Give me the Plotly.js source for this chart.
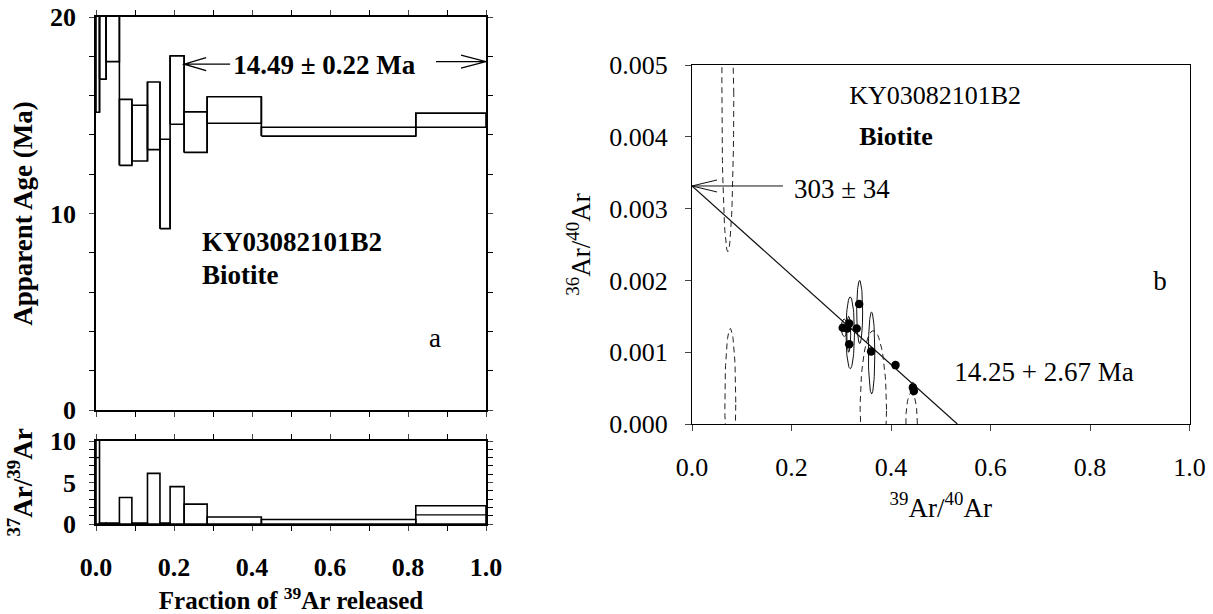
<!DOCTYPE html>
<html>
<head>
<meta charset="utf-8">
<script src="https://cdn.plot.ly/plotly-3.0.1.min.js"></script>
<style>html,body{margin:0;padding:0;background:#fff}#chart{width:1213px;height:614px}</style>
</head>
<body>
<div id="chart"></div>
<script>
// ---------- Data: age spectrum (panel a) ----------
const stepFrom = [0.000, 0.009, 0.026, 0.060, 0.092, 0.132, 0.164, 0.190, 0.226, 0.285, 0.424, 0.820];
const stepTo   = [0.009, 0.026, 0.060, 0.092, 0.132, 0.164, 0.190, 0.226, 0.285, 0.424, 0.820, 1.000];
const ageLow   = [15.15, 16.84, 17.73, 12.45, 12.67, 13.25, 9.23, 14.54, 13.11, 14.59, 13.94, 14.39];
const ageHigh  = [24.0, 24.0, 24.0, 15.81, 15.51, 16.69, 13.78, 18.02, 15.17, 15.94, 14.39, 15.11];
// 37Ar/39Ar per step (bar top) and inner mark line
const caK      = [11.0, 0.1, 0.1, 3.2, 0.1, 6.1, 0.1, 4.5, 2.4, 0.84, 0.55, 2.2];
const caKMark  = [8.0, null, null, null, null, null, null, null, null, null, null, 1.1];
// plateau
const plateauFrom = 0.226, plateauTo = 1.0, plateauArrowAge = 17.6, plateauArrowAgeR = 17.73;
const plateauLabel = "14.49 ± 0.22 Ma";

// ---------- Data: inverse isochron (panel b) ----------
const ptX = [0.303, 0.312, 0.316, 0.316, 0.331, 0.336, 0.360, 0.409, 0.444, 0.446];
const ptY = [0.00134, 0.00133, 0.00140, 0.00111, 0.00133, 0.00167, 0.00101, 0.00082, 0.00051, 0.00046];
// accepted-step error ellipses
const ellCx = [0.306, 0.318, 0.315, 0.337, 0.361, 0.409, 0.444];
const ellCy = [0.00134, 0.00127, 0.00125, 0.00156, 0.00099, 0.00082, 0.00049];
const ellHx = [0.006, 0.0085, 0.004, 0.006, 0.0065, 0.0045, 0.0045];
const ellHy = [0.00012, 0.00050, 0.00025, 0.00044, 0.00057, 0.00005, 0.00009];
// rejected-step error ellipses (dashed)
const rejCx = [0.072, 0.077, 0.3645, 0.4413];
const rejCy = [0.0046, 0.0003, 0.0002, 0.0000];
const rejHx = [0.012, 0.011, 0.0265, 0.0117];
const rejHy = [0.0022, 0.00103, 0.0011, 0.00044];
// isochron line
const isoX = [0.0, 0.5333];
const isoY = [0.003315, 0.0];
const interceptLabel = "303 ± 34";
const isoAgeLabel = "14.25 + 2.67 Ma";
const sampleName = "KY03082101B2";
const mineral = "Biotite";

// ---------- Tick labels ----------
const ageTickVals = [0, 10, 20];
const ageTickText = ["0", "10", "20"];
const caTickVals = [0, 5, 10];
const caTickText = ["0", "5", "10"];
const fracTickVals = [0, 0.2, 0.4, 0.6, 0.8, 1.0];
const fracTickText = ["0.0", "0.2", "0.4", "0.6", "0.8", "1.0"];

// ---------- Build traces ----------
function boxes(x0s, x1s, lo, hi) {
  const X = [], Y = [];
  for (let i = 0; i < x0s.length; i++) {
    X.push(x0s[i], x0s[i], x1s[i], x1s[i], x0s[i], null);
    Y.push(lo[i], hi[i], hi[i], lo[i], lo[i], null);
  }
  return {X, Y};
}
const spec = boxes(stepFrom, stepTo, ageLow, ageHigh);
const conX = [], conY = [];
for (let i = 0; i < stepTo.length - 1; i++) {
  conX.push(stepTo[i], stepTo[i], null);
  conY.push(Math.min(ageLow[i], ageLow[i+1]), Math.max(ageHigh[i], ageHigh[i+1]), null);
}
const caBars = boxes(stepFrom, stepTo, caK.map(() => 0), caK);
const markX = [], markY = [];
caKMark.forEach((v, i) => { if (v !== null) { markX.push(stepFrom[i], stepTo[i], null); markY.push(v, v, null); } });

function ellipses(cx, cy, hx, hy) {
  const X = [], Y = [];
  for (let i = 0; i < cx.length; i++) {
    for (let k = 0; k <= 72; k++) {
      const t = 2 * Math.PI * k / 72;
      X.push(cx[i] + hx[i] * Math.cos(t));
      Y.push(cy[i] + hy[i] * Math.sin(t));
    }
    X.push(null); Y.push(null);
  }
  return {X, Y};
}
const accE = ellipses(ellCx, ellCy, ellHx, ellHy);
const rejE = ellipses(rejCx, rejCy, rejHx, rejHy);

const serif = "Liberation Serif, Times New Roman, serif";
const K = "#000";
function label(xa, ya, x, y, text, size, bold, pos) {
  return {x: [x], y: [y], xaxis: xa, yaxis: ya, mode: "text", text: [text], textposition: pos || "middle right",
    textfont: {family: serif, size: size, color: "#000", weight: bold ? 700 : 400}, cliponaxis: false, hoverinfo: "skip"};
}
const traces = [
  {x: spec.X, y: spec.Y, xaxis: "x", yaxis: "y", mode: "lines", line: {color: K, width: 1.6}, hoverinfo: "skip"},
  {x: conX, y: conY, xaxis: "x", yaxis: "y", mode: "lines", line: {color: K, width: 1.6}, hoverinfo: "skip"},
  {x: caBars.X, y: caBars.Y, xaxis: "x2", yaxis: "y2", mode: "lines", line: {color: K, width: 1.6}, hoverinfo: "skip"},
  {x: markX, y: markY, xaxis: "x2", yaxis: "y2", mode: "lines", line: {color: K, width: 1.4}, hoverinfo: "skip"},
  {x: isoX, y: isoY, xaxis: "x3", yaxis: "y3", mode: "lines", line: {color: "#111", width: 1.2}, hoverinfo: "skip"},
  {x: rejE.X, y: rejE.Y, xaxis: "x3", yaxis: "y3", mode: "lines", line: {color: "#222", width: 1, dash: "6px,4px"}, hoverinfo: "skip"},
  {x: accE.X, y: accE.Y, xaxis: "x3", yaxis: "y3", mode: "lines", line: {color: "#111", width: 1}, hoverinfo: "skip"},
  {x: ptX, y: ptY, xaxis: "x3", yaxis: "y3", mode: "markers", marker: {color: "#000", size: 8.5}, hoverinfo: "skip"},
  label("x", "y", 0.352, 17.45, plateauLabel, 27, true),
  label("x", "y", 0.272, 8.45, sampleName, 27, true),
  label("x", "y", 0.272, 6.75, mineral, 27, true),
  label("x", "y", 0.869, 3.56, "a", 27, false, "middle center"),
  label("x3", "y3", 0.316, 0.00455, sampleName, 26, false),
  label("x3", "y3", 0.336, 0.00398, mineral, 26, true),
  label("x3", "y3", 0.205, 0.00324, interceptLabel, 27, false),
  label("x3", "y3", 0.9407, 0.00196, "b", 27, false, "middle center"),
  label("x3", "y3", 0.527, 0.00069, isoAgeLabel, 27, false)
];

// ---------- Layout ----------
const W = 1213, H = 614;
const px = v => v / W, py = v => 1 - v / H;
const boldTick = {family: serif, size: 26, color: "#000", weight: 700};
const regTick = {family: serif, size: 26, color: "#000"};
const axBase = {showgrid: false, zeroline: false, showline: true, linecolor: "#000", ticks: "outside", fixedrange: true};
const minorL = (d) => ({dtick: d, ticks: "outside", ticklen: 5, tickwidth: 1.4, tickcolor: "#000", showgrid: false});

const layout = {
  width: W, height: H,
  margin: {l: 0, r: 0, t: 0, b: 0},
  paper_bgcolor: "#fff", plot_bgcolor: "#fff",
  showlegend: false,
  xaxis: Object.assign({}, axBase, {domain: [px(96), px(486)], range: [0, 1], anchor: "y",
    linewidth: 1.6, mirror: "ticks", ticklen: 5, tickwidth: 1.4, tickmode: "array",
    tickvals: fracTickVals, ticktext: fracTickText, showticklabels: false, minor: minorL(0.1)}),
  yaxis: Object.assign({}, axBase, {domain: [py(410), py(17)], range: [0, 20], anchor: "x",
    linewidth: 1.6, mirror: "ticks", ticklen: 5, tickwidth: 1.4, tickmode: "array",
    tickvals: ageTickVals, ticktext: ageTickText, tickfont: boldTick, ticklabelstandoff: 8, minor: minorL(2),
    title: {text: "Apparent Age (Ma)", font: {family: serif, size: 27, color: "#000", weight: 700}, standoff: 10}}),
  xaxis2: Object.assign({}, axBase, {domain: [px(96), px(486)], range: [0, 1], anchor: "y2",
    linewidth: 1.6, mirror: "ticks", ticklen: 5, tickwidth: 1.4, tickmode: "array",
    tickvals: fracTickVals, ticktext: fracTickText, tickfont: boldTick, ticklabelstandoff: 14, minor: minorL(0.1),
    title: {text: "Fraction of <sup>39</sup>Ar released", font: {family: serif, size: 25, color: "#000", weight: 700}, standoff: 12}}),
  yaxis2: Object.assign({}, axBase, {domain: [py(524), py(441)], range: [0, 10], anchor: "x2",
    linewidth: 1.6, mirror: "ticks", ticklen: 5, tickwidth: 1.4, tickmode: "array",
    tickvals: caTickVals, ticktext: caTickText, tickfont: boldTick, ticklabelstandoff: 8, minor: minorL(1),
    title: {text: "<sup>37</sup>Ar/<sup>39</sup>Ar", font: {family: serif, size: 27, color: "#000", weight: 700}, standoff: 10}}),
  xaxis3: Object.assign({}, axBase, {domain: [px(692), px(1189.5)], range: [0, 1], anchor: "y3",
    linewidth: 1.2, mirror: true, ticklen: 6, tickwidth: 1.2, dtick: 0.2, tickformat: ".1f",
    tickfont: regTick, ticklabelstandoff: 14,
    title: {text: "<sup>39</sup>Ar/<sup>40</sup>Ar", font: {family: serif, size: 27, color: "#000"}, standoff: 16}}),
  yaxis3: Object.assign({}, axBase, {domain: [py(424), py(65)], range: [0, 0.005], anchor: "x3",
    linewidth: 1.2, mirror: true, ticklen: 6, tickwidth: 1.2, dtick: 0.001, tickformat: ".3f",
    tickfont: regTick, ticklabelstandoff: 12,
    title: {text: "<sup>36</sup>Ar/<sup>40</sup>Ar", font: {family: serif, size: 27, color: "#000"}, standoff: 10}}),
  shapes: [
    {type: "path", xref: "x", yref: "y", xsizemode: "pixel", ysizemode: "pixel",
     xanchor: plateauFrom, yanchor: plateauArrowAge,
     path: "M 0 0 L 46 0 M 22 6.5 L 0 0 L 22 -6.5", line: {color: "#000", width: 1.3}},
    {type: "path", xref: "x", yref: "y", xsizemode: "pixel", ysizemode: "pixel",
     xanchor: plateauTo, yanchor: plateauArrowAgeR,
     path: "M 0 0 L -50 0 M -25 6.5 L 0 0 L -25 -6.5", line: {color: "#000", width: 1.3}},
    {type: "path", xref: "x3", yref: "y3", xsizemode: "pixel", ysizemode: "pixel",
     xanchor: isoX[0], yanchor: isoY[0],
     path: "M 0 0 L 91 0 M 25 6 L 0 0 L 25 -6", line: {color: "#111", width: 1}}
  ]
};

Plotly.newPlot("chart", traces, layout, {displayModeBar: false});
</script>
</body>
</html>
